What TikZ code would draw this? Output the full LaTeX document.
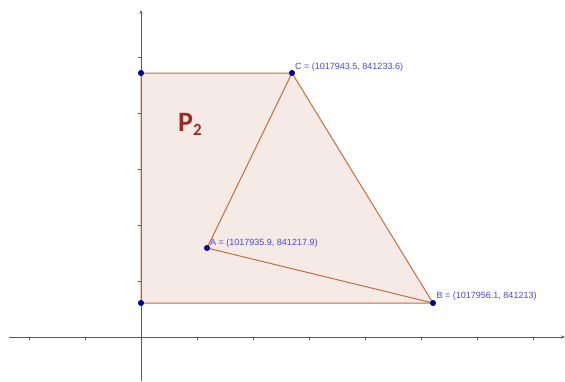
\documentclass[tikz,border=0pt]{standalone}
\usepackage{fontspec}
\setmainfont{Liberation Sans}
\newfontfamily\pfont{Carlito}
\usetikzlibrary{arrows.meta}
\definecolor{fillc}{RGB}{246,234,230}
\definecolor{edgec}{RGB}{196,110,60}
\definecolor{ptc}{RGB}{0,0,160}
\definecolor{labc}{RGB}{70,70,230}
\definecolor{axc}{RGB}{90,90,90}
\definecolor{pc}{RGB}{160,40,40}
\begin{document}
\begin{tikzpicture}[x=1pt,y=-1pt,
  edge/.style={draw=edgec,line width=1pt},
  pt/.style={circle,fill=ptc,draw=ptc!60!black,inner sep=0pt,minimum size=5.5pt},
  lab/.style={text=labc,font=\fontsize{9}{10}\selectfont,anchor=base west,inner sep=0pt},
  axisline/.style={draw=axc,line width=0.8pt,-{Stealth[length=4pt,width=3pt]}},
  tickline/.style={draw=axc,line width=0.6pt}]
\useasboundingbox (0,0) rectangle (565,381);
% vertices
\coordinate (TL) at (141,73);
\coordinate (BL) at (141,303);
\coordinate (C) at (292,73);
\coordinate (A) at (207,248);
\coordinate (B) at (433,303);
% fill
\fill[fillc] (TL) -- (C) -- (B) -- (BL) -- cycle;
% axes
\coordinate (xs) at (9,337);
\coordinate (xe) at (565,337);
\coordinate (ys) at (141,381);
\coordinate (ye) at (141,10);
\draw[axisline] (xs) -- (xe);
\draw[axisline] (ys) -- (ye);
\foreach \t in {29,85,197,253,309,365,421,477,533}
  \draw[tickline] (\t,337) -- (\t,340);
\foreach \t in {57,113,169,225,281}
  \draw[tickline] (138,\t) -- (141,\t);
% edges
\draw[edge] (TL) -- (C) -- (B) -- (BL) -- cycle;
\draw[edge] (C) -- (A) -- (B);
% points
\node[pt] (pTL) at (TL) {};
\node[pt] (pBL) at (BL) {};
\node[pt] (pC) at (C) {};
\node[pt] (pA) at (A) {};
\node[pt] (pB) at (B) {};
% labels
\node[lab] (lC) at (295,69) {C = (1017943.5, 841233.6)};
\node[lab] (lA) at (210,245) {A = (1017935.9, 841217.9)};
\node[lab] (lB) at (436.5,298.5) {B = (1017956.1, 841213)};
\node[anchor=base west,inner sep=0pt,text=pc,font=\pfont\bfseries\fontsize{28}{30}\selectfont] (P2) at (178,131) {P\raisebox{-4pt}{\fontsize{17}{18}\selectfont 2}};
\end{tikzpicture}
\end{document}
